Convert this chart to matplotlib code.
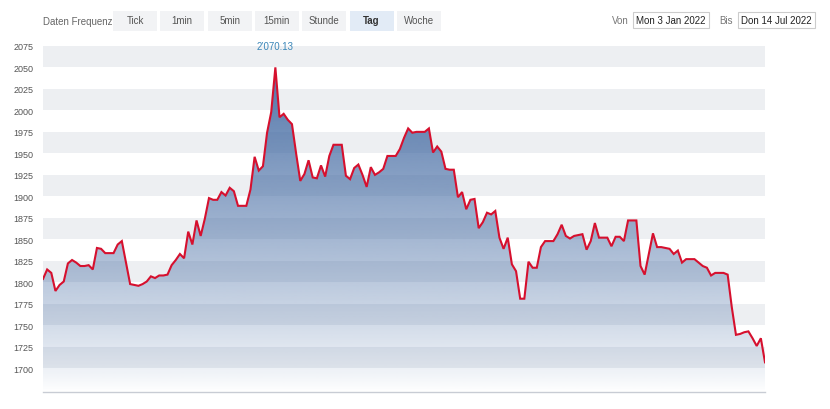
import matplotlib
matplotlib.use("Agg")
import matplotlib.pyplot as plt
import numpy as np
from matplotlib.patches import Polygon, Rectangle

plt.rcParams['font.family'] = ['Liberation Sans', 'DejaVu Sans']

# daily closes, 3 Jan 2022 .. 14 Jul 2022
prices = [
    1804, 1815, 1811, 1790, 1797, 1801, 1822, 1826, 1823, 1819,
    1819, 1820, 1815, 1840, 1839, 1834, 1834, 1834, 1844, 1848,
    1823, 1798, 1797, 1796, 1798, 1801, 1807, 1805, 1808, 1808,
    1809, 1820, 1826, 1833, 1828, 1859, 1844, 1872, 1854, 1874,
    1898, 1896, 1896, 1905, 1901, 1910, 1906, 1889, 1889, 1889,
    1908, 1946, 1930, 1935, 1974, 1998, 2050, 1992, 1996, 1989,
    1984, 1950, 1918, 1926, 1942, 1922, 1921, 1936, 1923, 1947,
    1960, 1960, 1960, 1924, 1920, 1933, 1937, 1925, 1911, 1934,
    1925, 1928, 1932, 1947, 1947, 1947, 1955, 1968, 1979, 1974,
    1975, 1975, 1975, 1979, 1951, 1958, 1952, 1932, 1931, 1931,
    1899, 1905, 1885, 1896, 1897, 1863, 1870, 1881, 1879, 1883,
    1852, 1839, 1852, 1821, 1813, 1781, 1781, 1824, 1817, 1817,
    1841, 1848, 1848, 1848, 1856, 1867, 1854, 1851, 1854, 1855,
    1856, 1838, 1848, 1869, 1852, 1852, 1852, 1842, 1853, 1853,
    1848, 1872, 1872, 1872, 1819, 1809, 1833, 1857, 1841, 1841,
    1840, 1839, 1833, 1837, 1823, 1827, 1827, 1827, 1823, 1819,
    1817, 1808, 1811, 1811, 1811, 1809, 1771, 1739, 1740, 1742,
    1743, 1735, 1726, 1735, 1707,
]
peak_label = "2\u2019070.13"
yticks = [1700, 1725, 1750, 1775, 1800, 1825, 1850, 1875, 1900, 1925,
          1950, 1975, 2000, 2025, 2050, 2075]
freq_buttons = ['Tick', '1min', '5min', '15min', 'Stunde', 'Tag', 'Woche']
active_button = 'Tag'
date_from = 'Mon 3 Jan 2022'
date_to = 'Don 14 Jul 2022'

fig = plt.figure(figsize=(8.3, 4.1), dpi=100)
fig.patch.set_facecolor('white')

ymin, ymax = 1672.5, 2083
ax = fig.add_axes([43 / 830, 17 / 410, 722 / 830, 353 / 410])
x = np.arange(len(prices))
ax.set_xlim(0, len(prices) - 1)
ax.set_ylim(ymin, ymax)

# alternating grey bands
for lo in range(1700, 2075, 50):
    ax.axhspan(lo, lo + 25, color='#edeff2', lw=0, zorder=0)

# gradient area under the line
verts = list(zip(x, prices)) + [(x[-1], ymin), (x[0], ymin)]
clip = Polygon(verts, closed=True, facecolor='none', edgecolor='none')
ax.add_patch(clip)
n = 256
t = np.linspace(0, 1, n)
grad = np.zeros((n, 1, 4))
grad[..., 0] = 62 / 255
grad[..., 1] = 102 / 255
grad[..., 2] = 160 / 255
grad[..., 3] = (0.95 * t ** 0.85)[:, None]
img = ax.imshow(grad, extent=[x[0], x[-1], ymin, ymax], origin='lower',
                aspect='auto', zorder=1, interpolation='bilinear')
img.set_clip_path(clip)

ax.plot(x, prices, color='#d6102e', lw=1.5, zorder=3, solid_joinstyle='miter')

ax.set_yticks(yticks)
ax.set_yticklabels([str(v) for v in yticks])
ax.tick_params(axis='y', length=0, pad=7, labelsize=6.5, labelcolor='#555555')
ax.set_xticks([])
for s in ['top', 'right', 'left']:
    ax.spines[s].set_visible(False)
ax.spines['bottom'].set_color('#c8ccd4')
ax.spines['bottom'].set_linewidth(1)

# peak label
ipk = int(np.argmax(prices))
ax.annotate(peak_label, xy=(ipk, max(prices)), xytext=(0, 12),
            textcoords='offset points', ha='center', va='bottom',
            fontsize=7, color='#3a86b8', annotation_clip=False)

# top control bar, drawn in pixel coordinates
bar = fig.add_axes([0, 0, 1, 1], zorder=-1)
bar.set_xlim(0, 830)
bar.set_ylim(410, 0)
bar.axis('off')
bar.text(43, 22, 'Daten Frequenz', fontsize=7, color='#666666', va='center')
bx = 113
for b in freq_buttons:
    on = b == active_button
    bar.add_patch(Rectangle((bx, 12), 44, 20, facecolor='#e2ebf6' if on else '#f2f3f5',
                            edgecolor='none'))
    bar.text(bx + 22, 21, b, fontsize=7, ha='center', va='center',
             color='#333333' if on else '#555555', fontweight='bold' if on else 'normal')
    bx += 47.3

bar.text(612, 21, 'Von', fontsize=7, color='#777777', va='center')
bar.add_patch(Rectangle((633, 13), 76, 16, facecolor='white', edgecolor='#cccccc', lw=0.8))
bar.text(671, 21, date_from, fontsize=7, ha='center', va='center', color='#222222')
bar.text(719, 21, 'Bis', fontsize=7, color='#777777', va='center')
bar.add_patch(Rectangle((738, 13), 77, 16, facecolor='white', edgecolor='#cccccc', lw=0.8))
bar.text(776.5, 21, date_to, fontsize=7, ha='center', va='center', color='#222222')

fig.savefig('out.png', dpi=100)
